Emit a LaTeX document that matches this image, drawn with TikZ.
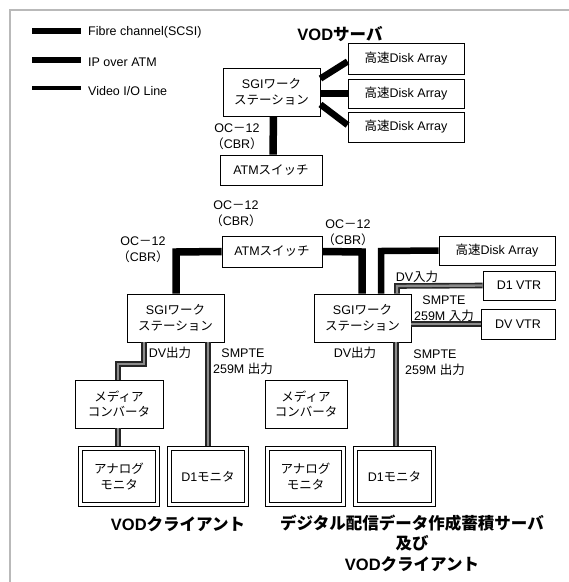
\documentclass[tikz,border=0pt]{standalone}
\usepackage{fontspec}
\setmainfont{Liberation Sans}
\newfontfamily\jp{Noto Sans CJK JP}
\usetikzlibrary{calc}
\begin{document}
\begin{tikzpicture}[x=1pt,y=-1pt,
  box/.style={draw=black, line width=0.9pt, inner sep=0pt, align=center, font=\fontsize{12.5}{15.5}\selectfont},
  mon/.style={draw=black, line width=0.8pt, double=white, double distance=3.6pt, inner sep=0pt, align=center, font=\fontsize{12.5}{15.5}\selectfont},
  lbl/.style={inner sep=0pt, align=center, font=\fontsize{12.5}{16}\selectfont},
  ttl/.style={inner sep=0pt, align=center, font=\fontsize{16.5}{21}\selectfont\bfseries},
  fibre/.style={line width=6.5pt, black},
  ipatm/.style={line width=7.5pt, black},
  video/.style={draw=black!85, line width=1.6pt, double=black!45, double distance=2.4pt, line join=miter},
  frame/.style={draw=gray!55, line width=2pt}]
\useasboundingbox (0,0) rectangle (569,582);
% frame
\coordinate (f0) at (10,582);
\coordinate (f1) at (10,10);
\coordinate (f2) at (569,10);
\draw[frame] (f0) -- (f1) -- (f2);
% legend
\coordinate (l1a) at (32,31); \coordinate (l1b) at (81,31);
\coordinate (l2a) at (32,60); \coordinate (l2b) at (81,60);
\coordinate (l3a) at (32,88); \coordinate (l3b) at (81,88);
\draw[line width=6pt] (l1a) -- (l1b);
\draw[line width=5.5pt] (l2a) -- (l2b);
\draw[line width=4pt] (l3a) -- (l3b);
\node[lbl, anchor=west] (t1) at (88,32) {Fibre channel(SCSI)};
\node[lbl, anchor=west] (t2) at (88,62) {IP over ATM};
\node[lbl, anchor=west] (t3) at (88,91) {Video I/O Line};
% top cluster
\node[ttl] (vods) at (340,34) {VOD{\jp サーバ}};
\node[box, minimum width=97pt, minimum height=48pt] (sgi1) at (271.5,92) {SGI{\jp ワーク}\\{\jp ステーション}};
\node[box, minimum width=116pt, minimum height=31pt] (disk1) at (406,58.5) {{\jp 高速}Disk Array};
\node[box, minimum width=116pt, minimum height=29pt] (disk2) at (406,93.5) {{\jp 高速}Disk Array};
\node[box, minimum width=116pt, minimum height=30pt] (disk3) at (406,127) {{\jp 高速}Disk Array};
\node[box, minimum width=102pt, minimum height=30pt] (atm1) at (271,170) {ATM{\jp スイッチ}};
\draw[fibre] ($(sgi1.north east)+(0,11)$) -- ($(disk1.west)+(0,3)$);
\draw[fibre] (disk2.west -| sgi1.east) -- (disk2.west);
\draw[fibre] ($(sgi1.south east)+(0,-12)$) -- ($(disk3.west)+(0,-2)$);
\draw[ipatm] ($(sgi1.south)+(2,0)$) -- ($(atm1.north)+(2,0)$);
\node[lbl] (oc1) at (237,137) {OC{\jp －}12\\{\jp （}CBR{\jp ）}};
% middle cluster
\node[box, minimum width=100pt, minimum height=31pt] (atm2) at (272,251.5) {ATM{\jp スイッチ}};
\node[box, minimum width=97pt, minimum height=48pt] (sgi2) at (175.5,318) {SGI{\jp ワーク}\\{\jp ステーション}};
\node[box, minimum width=97pt, minimum height=48pt] (sgi3) at (362.5,318) {SGI{\jp ワーク}\\{\jp ステーション}};
\node[box, minimum width=116pt, minimum height=29pt] (disk4) at (497,250.5) {{\jp 高速}Disk Array};
\node[box, minimum width=72pt, minimum height=29pt] (d1vtr) at (519,285.5) {D1 VTR};
\node[box, minimum width=74pt, minimum height=30pt] (dvvtr) at (518,324) {DV VTR};
\node[lbl] (oc2) at (236,213.5) {OC{\jp －}12\\{\jp （}CBR{\jp ）}};
\node[lbl] (oc3) at (143,249.5) {OC{\jp －}12\\{\jp （}CBR{\jp ）}};
\node[lbl] (oc4) at (348,233) {OC{\jp －}12\\{\jp （}CBR{\jp ）}};
\coordinate (c1) at (176,252);
\coordinate (c2) at (362,252);
\coordinate (c3) at (381,251);
\coordinate (c4) at (397,286);
\draw[ipatm, line join=miter] (atm2.west) -- (c1) -- (c1 |- sgi2.north);
\draw[ipatm, line join=miter] (atm2.east) -- (c2) -- (c2 |- sgi3.north);
\draw[fibre, line join=miter] (disk4.west) -- (c3) -- (c3 |- sgi3.north);
\draw[video] (d1vtr.west) -- (c4) -- (c4 |- sgi3.north);
\draw[video] (dvvtr.west -| sgi3.east) -- (dvvtr.west);
\node[lbl] (dvin) at (417,277) {DV{\jp 入力}};
\node[lbl] (smin) at (444,309) {SMPTE\\259M {\jp 入力}};
% bottom
\node[box, minimum width=88pt, minimum height=48pt] (mc1) at (119,404) {{\jp メディア}\\{\jp コンバータ}};
\node[box, minimum width=82pt, minimum height=48pt] (mc2) at (306,404) {{\jp メディア}\\{\jp コンバータ}};
\node[mon, minimum width=77pt, minimum height=56pt] (am1) at (119,476.5) {{\jp アナログ}\\{\jp モニタ}};
\node[mon, minimum width=77pt, minimum height=56pt] (d1m1) at (208,476.5) {D1{\jp モニタ}};
\node[mon, minimum width=76pt, minimum height=56pt] (am2) at (305.5,476.5) {{\jp アナログ}\\{\jp モニタ}};
\node[mon, minimum width=78pt, minimum height=56pt] (d1m2) at (394.5,476.5) {D1{\jp モニタ}};
\coordinate (e1) at (144,364);
\coordinate (e2) at (118,364);
\draw[video] (e1 |- sgi2.south) -- (e1) -- (e2) -- (e2 |- mc1.north);
\draw[video] (mc1.south -| e2) -- ($(am1.north -| e2)+(0,-2.5)$);
\draw[video] (sgi2.south -| d1m1.north) -- ($(d1m1.north)+(0,-2.5)$);
\coordinate (e3) at (396,342);
\draw[video] (e3) -- ($(e3 |- d1m2.north)+(0,-2.5)$);
\node[lbl] (dvo1) at (170,353) {DV{\jp 出力}};
\node[lbl] (smo1) at (243,362) {SMPTE\\259M {\jp 出力}};
\node[lbl] (dvo2) at (355,353) {DV{\jp 出力}};
\node[lbl] (smo2) at (435,363) {SMPTE\\259M {\jp 出力}};
\node[ttl] (vodc) at (178,524) {VOD{\jp クライアント}};
\node[ttl, font=\fontsize{16.5}{20.5}\selectfont\bfseries] (dgs) at (412,543) {{\jp デジタル配信データ作成蓄積サーバ}\\{\jp 及び}\\VOD{\jp クライアント}};
\end{tikzpicture}
\end{document}
